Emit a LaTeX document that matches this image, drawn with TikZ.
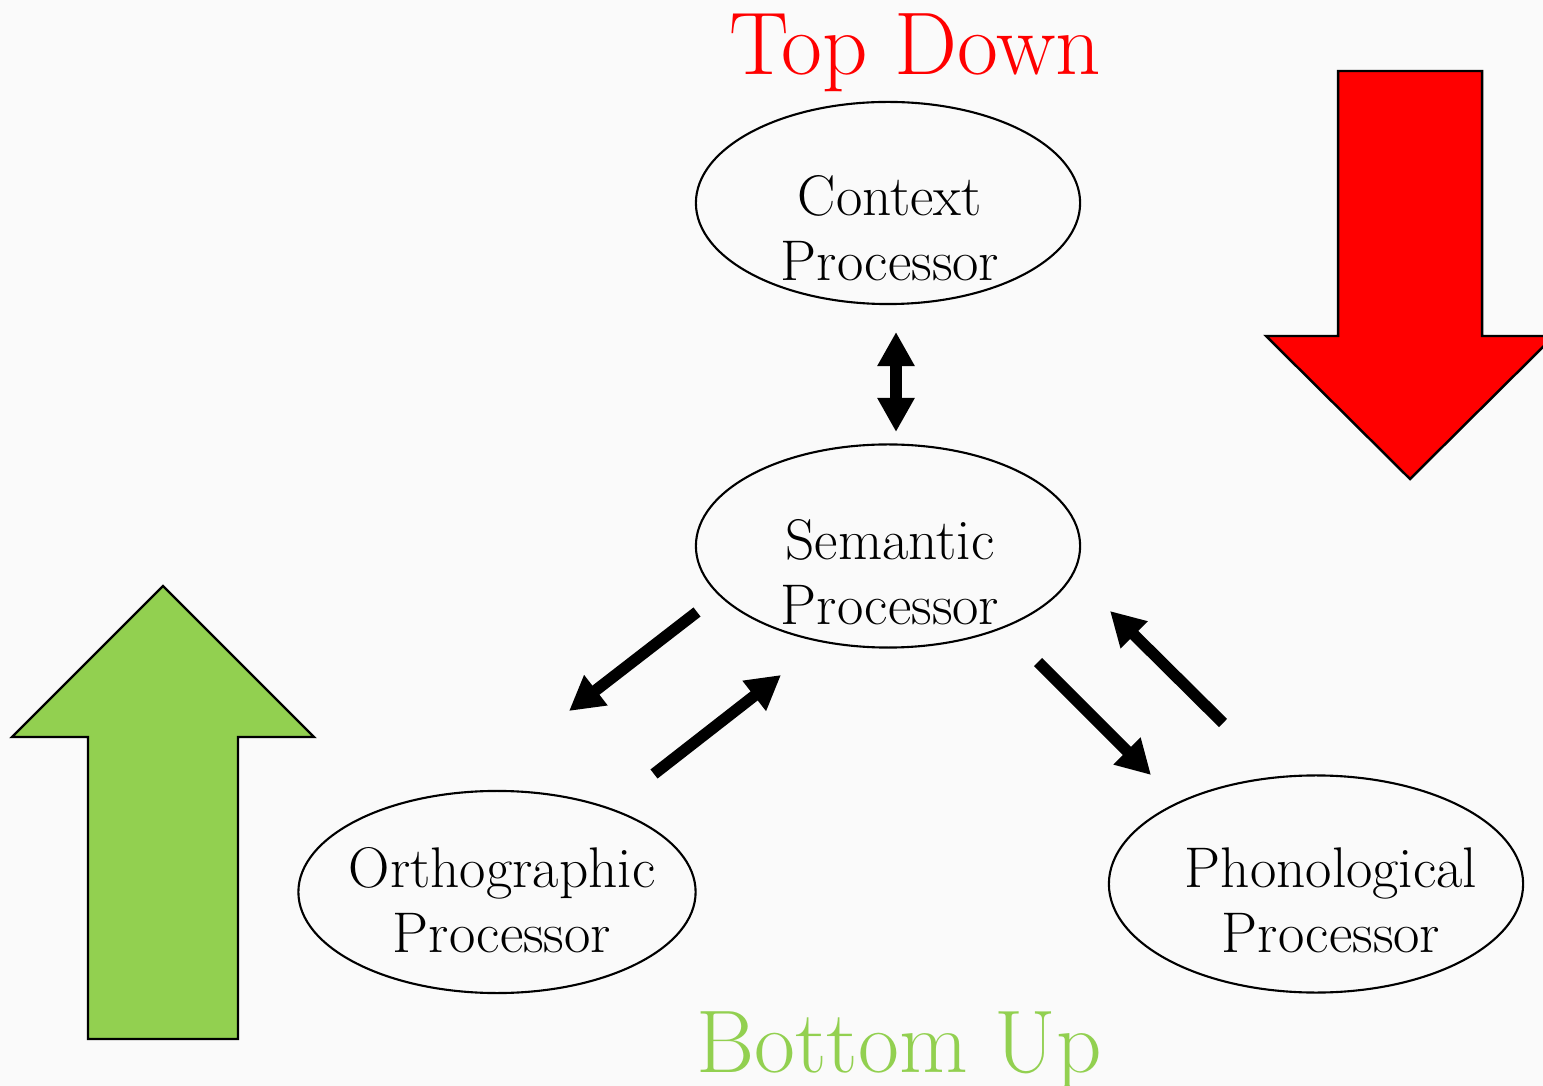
\documentclass[tikz,border=0pt]{standalone}
\usetikzlibrary{arrows.meta,shapes.geometric}
\definecolor{bggray}{RGB}{250,250,250}
\definecolor{tdred}{RGB}{255,0,0}
\definecolor{bugreen}{RGB}{146,208,80}
\tikzset{
  proc/.style={ellipse, draw=black, line width=0.6pt, inner sep=0pt},
  proctext/.style={align=center, inner sep=0pt, font=\fontsize{16.3}{18.5}\selectfont},
  flow/.style={line width=0.115cm, -{Triangle[length=0.34cm,width=0.36cm]}},
  dflow/.style={line width=0.12cm, {Triangle[length=0.34cm,width=0.35cm]}-{Triangle[length=0.34cm,width=0.35cm]}},
  bigarrow/.style={draw=black, line width=0.7pt, line join=miter},
  title/.style={inner sep=0pt, anchor=base, font=\fontsize{25.3}{30}\selectfont}
}
\begin{document}
\begin{tikzpicture}[x=0.01cm,y=-0.01cm]
\useasboundingbox (0,0) rectangle (1543,1086);
\clip (0,0) rectangle (1543,1086);
\fill[bggray] (0,0) rectangle (1543,1086);

% big arrows
\draw[bigarrow, fill=tdred] (1338,71) -- (1482,71) -- (1482,336) -- (1554,336) -- (1410,479) -- (1266,336) -- (1338,336) -- cycle;
\draw[bigarrow, fill=bugreen] (88,1039) -- (88,737) -- (12,737) -- (163,586) -- (314,737) -- (238,737) -- (238,1039) -- cycle;

% titles
\node[title, text=tdred] (td) at (915,75) {Top Down};
\node[title, text=bugreen] (bu) at (899,1072) {Bottom Up};

% processors
\node[proc, minimum width=3.84cm, minimum height=2.02cm] (ctx) at (888,203) {};
\node[proc, minimum width=3.84cm, minimum height=2.03cm] (sem) at (888,546) {};
\node[proc, minimum width=3.97cm, minimum height=2.02cm] (orth) at (497,892) {};
\node[proc, minimum width=4.14cm, minimum height=2.17cm] (phon) at (1316,884) {};

\node[proctext] (ctxt) at (890,228) {Context\\Processor};
\node[proctext] (semt) at (890,572) {Semantic\\Processor};
\node[proctext] (ortht) at (502,900) {Orthographic\\Processor};
\node[proctext] (phont) at (1331,900) {Phonological\\Processor};

% connector end points
\coordinate (cs1) at (896,332);
\coordinate (cs2) at (896,432);
\coordinate (so1) at (697,612);
\coordinate (so2) at (569,711);
\coordinate (os1) at (654,774);
\coordinate (os2) at (781,675);
\coordinate (sp1) at (1038,662);
\coordinate (sp2) at (1151,775);
\coordinate (ps1) at (1223,723);
\coordinate (ps2) at (1110,611);

\draw[dflow] (cs1) -- (cs2);
\draw[flow] (so1) -- (so2);
\draw[flow] (os1) -- (os2);
\draw[flow] (sp1) -- (sp2);
\draw[flow] (ps1) -- (ps2);
\end{tikzpicture}
\end{document}
